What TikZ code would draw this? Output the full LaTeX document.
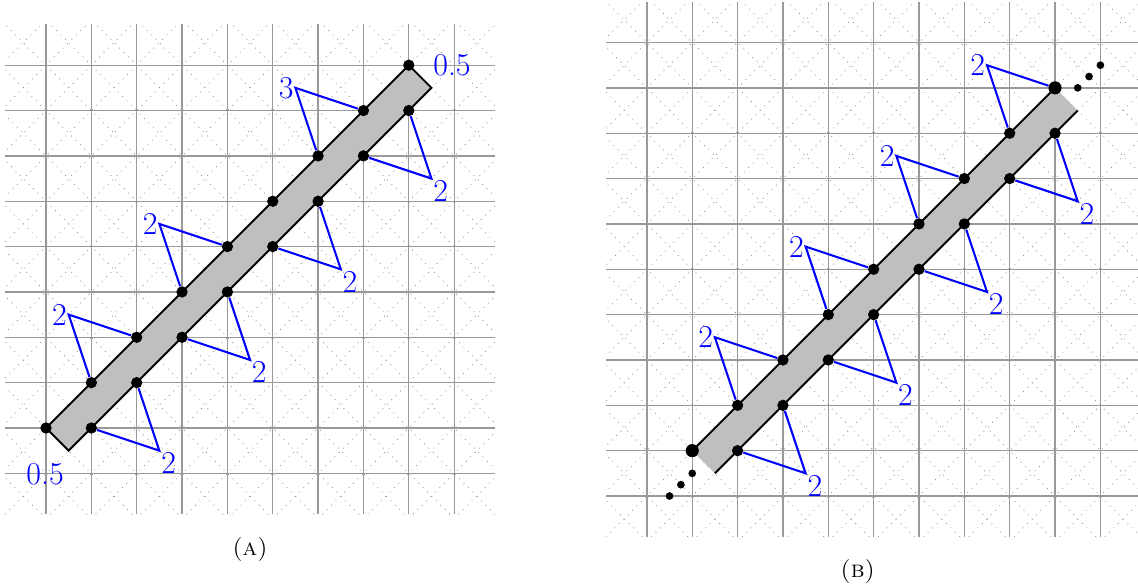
\documentclass[tikz,border=0pt]{standalone}
\usepackage{amsmath}
\usepackage{xcolor}
\usepackage{tikz}

\begin{document}
\begin{tikzpicture}[
  gridline/.style={black!40, line width=0.8pt},
  diagline/.style={black!45, line width=0.5pt, dash pattern=on 0.5pt off 3.4pt},
  bandfill/.style={fill=black!25},
  bandedge/.style={draw=black, line width=1.2pt},
  dot/.style={circle, fill=black, inner sep=0pt, minimum size=0.25cm},
  bigdot/.style={circle, fill=black, inner sep=0pt, minimum size=0.29cm},
  smalldot/.style={circle, fill=black, inner sep=0pt, minimum size=0.17cm},
  tri/.style={blue, line width=1.3pt},
  lab/.style={blue, inner sep=1pt, font=\fontsize{20}{24}\selectfont},
  capt/.style={font=\fontsize{15}{18}\selectfont}]
  \useasboundingbox (-1.0143,-3.4620) rectangle (24.0794,9.4377);
  % ---- Left: finite strip ----
  \begin{scope}
    \begin{scope}
      \clip (-0.9,-1.9) rectangle (9.9,8.9);
      \foreach \k in {-12,...,12}
        \draw[diagline] ({\k-2},-2) -- ({\k+12},12);
      \foreach \k in {-4,...,20}
        \draw[diagline] ({\k+2},-2) -- ({\k-12},12);
    \end{scope}
    \draw[gridline] (-0.9,-1.9) grid (9.9,8.9);
    \coordinate (a-c0) at (0,0);
    \coordinate (a-c1) at (8,8);
    \coordinate (a-c2) at (8.5,7.5);
    \coordinate (a-c3) at (0.5,-0.5);
    \filldraw[bandfill, bandedge] (a-c0) -- (a-c1) -- (a-c2) -- (a-c3) -- cycle;
    \foreach \i in {0,...,8}
      \node[dot] (a-u\i) at (\i,\i) {};
    \foreach \i in {1,...,8}
      \node[dot] (a-l\i) at (\i,{\i-1}) {};
    \foreach \i/\j/\t in {1/2/2,3/4/2,6/7/3} {
      \coordinate (a-p\i) at ({\i-0.5},{\i+1.5});
      \node[lab, anchor=east] (a-t\i) at (a-p\i) {\t};
      \draw[tri] (a-u\i) -- (a-p\i) -- (a-u\j);
    }
    \foreach \i/\j in {1/2,3/4,5/6,7/8} {
      \coordinate (a-q\i) at ({\i+1.5},{\i-1.5});
      \node[lab, anchor=north west] (a-s\i) at (a-q\i) {2};
      \draw[tri] (a-l\i) -- (a-q\i) -- (a-l\j);
    }
    \node[lab, anchor=west] (a-half1) at (8.5,8) {0.5};
    \node[lab] (a-half0) at (-0.02,-1.02) {0.5};
    \node[capt] (a-cap) at (4.5,-2.69) {\textsc{(a)}};
  \end{scope}
  % ---- Right: strip going on both ways ----
  \begin{scope}[xshift=14.25cm, yshift=-0.5cm]
    \begin{scope}
      \clip (-1.9,-1.9) rectangle (9.9,9.9);
      \foreach \k in {-12,...,12}
        \draw[diagline] ({\k-2},-2) -- ({\k+13},13);
      \foreach \k in {-4,...,20}
        \draw[diagline] ({\k+2},-2) -- ({\k-13},13);
    \end{scope}
    \draw[gridline] (-1.9,-1.9) grid (9.9,9.9);
    \coordinate (b-c0) at (0,0);
    \coordinate (b-c1) at (8,8);
    \coordinate (b-c2) at (8.5,7.5);
    \coordinate (b-c3) at (0.5,-0.5);
    \fill[bandfill] (b-c0) -- (b-c1) -- (b-c2) -- (b-c3) -- cycle;
    \draw[bandedge] (b-c0) -- (b-c1);
    \draw[bandedge] (b-c3) -- (b-c2);
    \node[bigdot] (b-u0) at (0,0) {};
    \node[bigdot] (b-u8) at (8,8) {};
    \foreach \i in {1,...,7}
      \node[dot] (b-u\i) at (\i,\i) {};
    \foreach \i in {1,...,8}
      \node[dot] (b-l\i) at (\i,{\i-1}) {};
    \foreach \i/\j in {1/2,3/4,5/6,7/8} {
      \coordinate (b-p\i) at ({\i-0.5},{\i+1.5});
      \node[lab, anchor=east] (b-t\i) at (b-p\i) {2};
      \draw[tri] (b-u\i) -- (b-p\i) -- (b-u\j);
      \coordinate (b-q\i) at ({\i+1.5},{\i-1.5});
      \node[lab, anchor=north west] (b-s\i) at (b-q\i) {2};
      \draw[tri] (b-l\i) -- (b-q\i) -- (b-l\j);
    }
    % dots past both ends
    \node[smalldot] (b-e1) at (0,-0.5) {};
    \node[smalldot] (b-e2) at (-0.25,-0.75) {};
    \node[smalldot] (b-e3) at (-0.5,-1) {};
    \node[smalldot] (b-e4) at (8.5,8) {};
    \node[smalldot] (b-e5) at (8.75,8.25) {};
    \node[smalldot] (b-e6) at (9,8.5) {};
    \node[capt] (b-cap) at (3.65,-2.675) {\textsc{(b)}};
  \end{scope}
\end{tikzpicture}
\end{document}
